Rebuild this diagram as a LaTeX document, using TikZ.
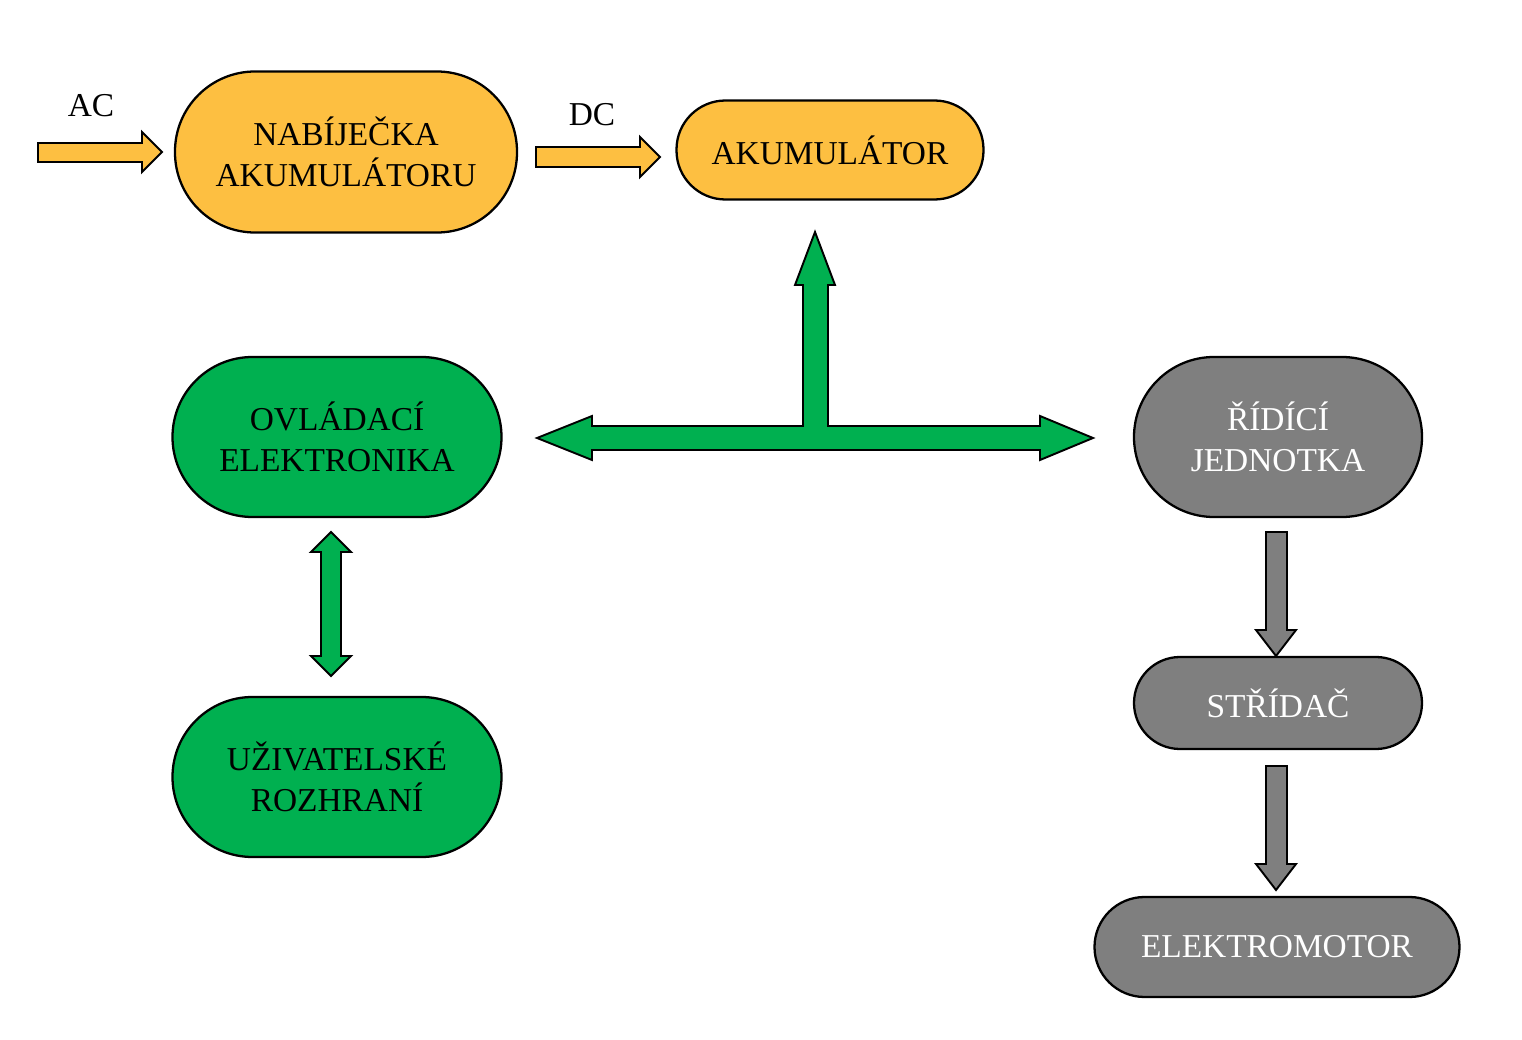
\documentclass[tikz,border=0pt]{standalone}
\usepackage{fontspec}
\setmainfont{Liberation Serif}
\usetikzlibrary{positioning,calc}
\definecolor{oranz}{HTML}{FDBF41}
\definecolor{zelena}{HTML}{00B050}
\definecolor{seda}{HTML}{7F7F7F}
\begin{document}
\begin{tikzpicture}[x=0.02cm,y=-0.02cm,
  blok/.style={draw,line width=1.3pt,rounded corners=#1,align=center,
    font=\fontsize{19}{23}\selectfont,inner sep=0pt},
  sipka/.style={draw,line width=1.1pt,line join=miter}]
  \useasboundingbox (0,0) rectangle (1522,1040);
  %----- bloky -----
  \node[blok=80*0.02cm,fill=oranz,minimum width=342*0.02cm,minimum height=161*0.02cm] (nab) at (346,152) {NABÍJEČKA\\AKUMULÁTORU};
  \node[blok=49*0.02cm,fill=oranz,minimum width=307*0.02cm,minimum height=99*0.02cm] (aku) at (830,150) {AKUMULÁTOR};
  \node[blok=80*0.02cm,fill=zelena,minimum width=329*0.02cm,minimum height=160*0.02cm] (ovl) at (337,437) {OVLÁDACÍ\\ELEKTRONIKA};
  \node[blok=80*0.02cm,fill=zelena,minimum width=329*0.02cm,minimum height=160*0.02cm] (uzi) at (337,777) {UŽIVATELSKÉ\\ROZHRANÍ};
  \node[blok=80*0.02cm,fill=seda,text=white,minimum width=288*0.02cm,minimum height=160*0.02cm] (rid) at (1278,437) {ŘÍDÍCÍ\\JEDNOTKA};
  \node[blok=46*0.02cm,fill=seda,text=white,minimum width=288*0.02cm,minimum height=92*0.02cm] (str) at (1278,703) {STŘÍDAČ};
  \node[blok=50*0.02cm,fill=seda,text=white,minimum width=365*0.02cm,minimum height=100*0.02cm] (ele) at (1277,947) {ELEKTROMOTOR};
  %----- popisky -----
  \node[font=\fontsize{19}{23}\selectfont] (ac) at (91,106) {AC};
  \node[font=\fontsize{19}{23}\selectfont] (dc) at (592,115) {DC};
  %----- oranzove sipky -----
  \draw[sipka,fill=oranz] (38,143) -- (142,143) -- (142,132) -- (162,152) -- (142,172) -- (142,162) -- (38,162) -- cycle;
  \draw[sipka,fill=oranz] (536,147) -- (640,147) -- (640,137) -- (660,157) -- (640,177) -- (640,167) -- (536,167) -- cycle;
  %----- zelena T sipka -----
  \draw[sipka,fill=zelena] (537,438) -- (592,416) -- (592,426) -- (803,426) -- (803,285) -- (795,285) -- (815,232)
    -- (835,285) -- (828,285) -- (828,426) -- (1040,426) -- (1040,416) -- (1093,438) -- (1040,460) -- (1040,450)
    -- (592,450) -- (592,460) -- cycle;
  %----- ovladaci - rozhrani -----
  \draw[sipka,fill=zelena] (331,532) -- (351,552) -- (341,552) -- (341,656) -- (351,656) -- (331,676)
    -- (311,656) -- (321,656) -- (321,552) -- (311,552) -- cycle;
  %----- sede sipky -----
  \foreach \t/\b in {532/656,766/890}{
    \draw[sipka,fill=seda] (1266,\t) -- (1287,\t) -- (1287,\b-26) -- (1296,\b-26) -- (1276,\b)
      -- (1256,\b-26) -- (1266,\b-26) -- cycle;
  }
\end{tikzpicture}
\end{document}
